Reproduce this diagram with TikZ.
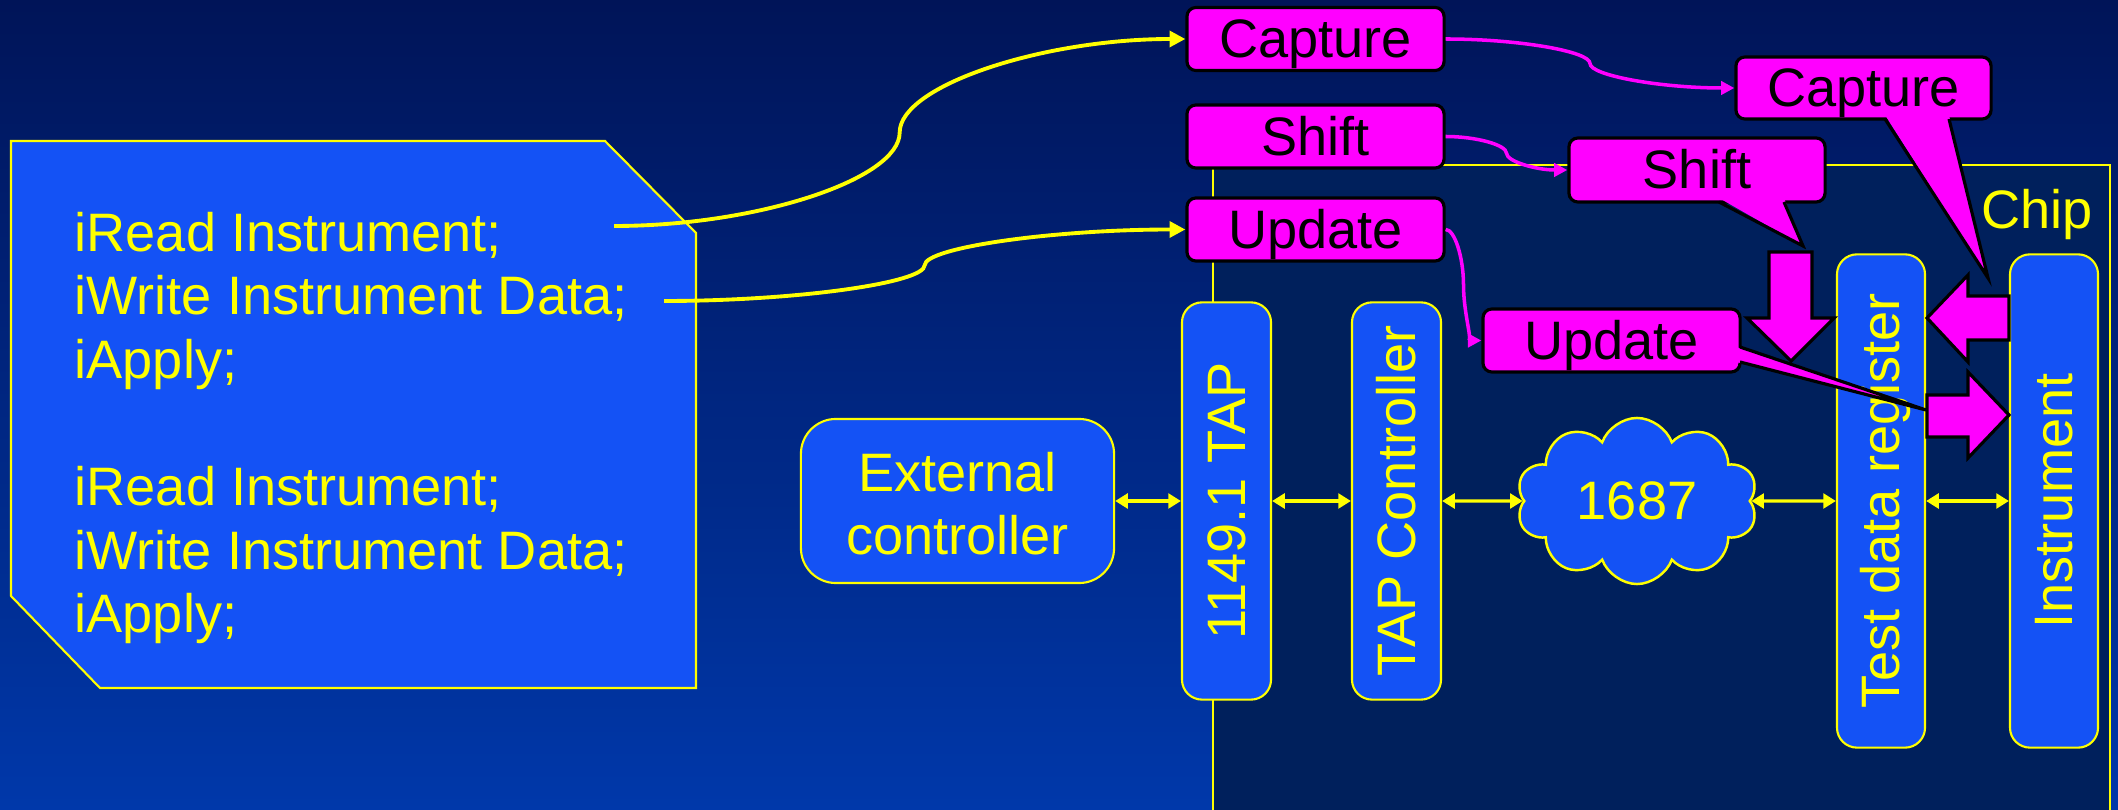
\documentclass[tikz,border=0pt]{standalone}
\usepackage{fontspec}
\setmainfont{Liberation Sans}
\usetikzlibrary{arrows.meta,shapes.symbols,calc}

\definecolor{bgtop}{RGB}{0,20,88}
\definecolor{bgbot}{RGB}{0,56,170}
\definecolor{chipbg}{RGB}{0,32,92}
\definecolor{boxblue}{RGB}{20,82,245}
\definecolor{hiyellow}{RGB}{255,255,0}
\definecolor{phase}{RGB}{255,0,255}

% Curved connector: horizontal start, vertical tangent half way, horizontal end
\newcommand\bentlink[3]{%
  \draw[#1] let \p1=(#2), \p2=(#3) in
    (\p1) .. controls ({0.75*\x1+0.25*\x2},\y1) and ({0.5*\x1+0.5*\x2},{0.75*\y1+0.25*\y2})
    .. ({0.5*\x1+0.5*\x2},{0.5*\y1+0.5*\y2})
    .. controls ({0.5*\x1+0.5*\x2},{0.25*\y1+0.75*\y2}) and ({0.25*\x1+0.75*\x2},\y2)
    .. (\p2);}

\tikzset{
  lbl/.style={font=\fontsize{15.4}{18.07}\selectfont},
  oneline/.style={lbl, text height=13.9pt, text depth=3.3pt},
  bluebox/.style={draw=hiyellow, fill=boxblue, line width=0.6pt, rounded corners=0.2cm,
    text=hiyellow, lbl, inner sep=0pt},
  vbox/.style={bluebox, oneline, rotate=90},
  phasebox/.style={draw=black, fill=phase, line width=0.9pt, rounded corners=0.09cm,
    text=black, oneline, minimum width=2.57cm, minimum height=0.63cm, inner sep=0pt},
  ylink/.style={draw=hiyellow, line width=1.1pt, -{Triangle[length=4.5pt,width=4.5pt]}},
  mlink/.style={draw=phase, line width=1pt, -{Triangle[length=3.8pt,width=3.8pt]}},
  busarrow/.style={draw=hiyellow, line width=0.9pt,
    {Triangle[length=3.6pt,width=4.2pt]}-{Triangle[length=3.6pt,width=4.2pt]}},
  blockarrow/.style={fill=phase, draw=black, line width=0.9pt, line join=miter},
  wedgeline/.style={draw=black, line width=0.9pt, line join=miter},
}

\begin{document}
\begin{tikzpicture}[x=0.01cm, y=-0.01cm]
\useasboundingbox (0,0) rectangle (2118,810);
\shade[top color=bgtop, bottom color=bgbot] (0,0) rectangle (2118,810);

% chip outline
\draw[draw=hiyellow, fill=chipbg, line width=0.6pt] (1213,165) rectangle (2110,830);
\node[lbl, text=hiyellow, inner sep=0pt] (chip) at (2037,215) {Chip};

% procedure listing
\draw[draw=hiyellow, fill=boxblue, line width=0.6pt]
  (11,141) -- (605,141) -- (696,233) -- (696,688) -- (100,688) -- (11,596) -- cycle;
\node[lbl, text=hiyellow, align=left, anchor=west, inner sep=0pt] (code) at (74,428)
  {iRead Instrument;\\ iWrite Instrument Data;\\ iApply;\\[18.07pt]
   iRead Instrument;\\ iWrite Instrument Data;\\ iApply;};
\coordinate (s1) at (614,226);
\coordinate (s2) at (664,301);

% data path
\node[bluebox, rounded corners=0.35cm, align=center, minimum width=3.13cm, minimum height=1.64cm]
  (ext) at (957.5,501) {\rule{0pt}{0.83em}External\\controller};
\node[vbox, minimum width=3.97cm, minimum height=0.89cm] (tap) at (1226.5,501) {1149.1 TAP};
\node[vbox, minimum width=3.97cm, minimum height=0.89cm] (tapc) at (1396.5,501) {TAP Controller};
\node[cloud, cloud puffs=10, cloud puff arc=140, cloud ignores aspect, draw=hiyellow,
  fill=boxblue, line width=0.7pt, minimum width=2.41cm, minimum height=1.66cm,
  inner sep=0pt, text=hiyellow, lbl] (net) at (1637,501) {1687};
\node[vbox, minimum width=4.93cm, minimum height=0.88cm] (tdr) at (1881,501) {Test data register};
\node[vbox, minimum width=4.93cm, minimum height=0.88cm] (inst) at (2054,501) {Instrument};

\draw[busarrow] (ext) -- (tap);
\draw[busarrow] (tap) -- (tapc);
\draw[busarrow] (tapc) -- (net);
\draw[busarrow] (net) -- (tdr);
\draw[busarrow] (tdr) -- (inst);

% block arrows between register and instrument
\draw[blockarrow] (1769,252) -- (1812,252) -- (1812,318) -- (1834,318) -- (1791,361)
  -- (1747,318) -- (1769,318) -- cycle;
\draw[blockarrow] (2009,296) -- (1968,296) -- (1968,275) -- (1927,318) -- (1968,362)
  -- (1968,340) -- (2009,340) -- cycle;
\draw[blockarrow] (1927,395) -- (1968,395) -- (1968,372) -- (2009,415) -- (1968,458)
  -- (1968,437) -- (1927,437) -- cycle;

% operation phases
\node[phasebox] (cap1) at (1315.5,39) {Capture};
\node[phasebox] (sh1) at (1315.5,136.5) {Shift};
\node[phasebox] (up1) at (1315.5,229.5) {Update};

% callouts
\node[phasebox, minimum width=2.55cm, minimum height=0.62cm] (cap2) at (1863.5,88) {Capture};
\fill[phase] (1885,115) -- (1988,278) -- (1949,115) -- cycle;
\draw[wedgeline] (1885,119) -- (1988,278) -- (1949,119);

\node[phasebox, minimum width=2.56cm, minimum height=0.64cm] (sh2) at (1697,170) {Shift};
\fill[phase] (1719,198) -- (1803,246) -- (1784,198) -- cycle;
\draw[wedgeline] (1719,202) -- (1803,246) -- (1784,202);

\node[phasebox] (up2) at (1611.5,340.5) {Update};
\fill[phase] (1736,347) -- (1926,410) -- (1736,362) -- cycle;
\draw[wedgeline] (1740,347) -- (1926,410) -- (1740,362);

% connectors
\bentlink{ylink}{s1}{cap1.west}
\bentlink{ylink}{s2}{up1.west}
\bentlink{mlink}{cap1.east}{cap2.west}
\bentlink{mlink}{sh1.east}{sh2.west}
\bentlink{mlink}{up1.east}{up2.west}
\end{tikzpicture}
\end{document}
